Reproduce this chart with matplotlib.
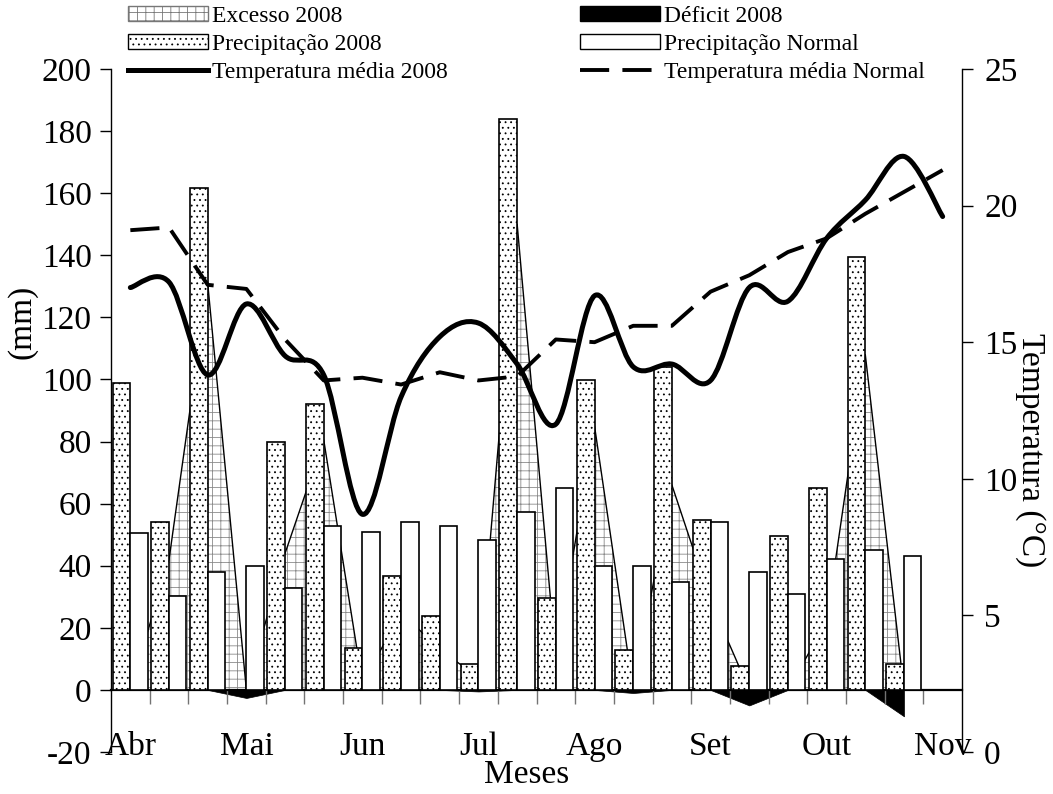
import numpy as np
import matplotlib
matplotlib.use('Agg')
import matplotlib.pyplot as plt
from matplotlib.patches import Patch, PathPatch
from matplotlib.lines import Line2D
from matplotlib.path import Path

plt.rcParams['font.family'] = ['Liberation Serif', 'DejaVu Serif']
plt.rcParams['hatch.linewidth'] = 0.6
plt.rcParams['axes.unicode_minus'] = False

# dados (decêndios de abril a outubro de 2008)
meses = ['Abr', 'Mai', 'Jun', 'Jul', 'Ago', 'Set', 'Out', 'Nov']
prec_2008 = [98.9, 54.1, 161.7, 0, 80, 92.2, 13.5, 36.8, 23.8, 8.4, 184,
             29.6, 99.8, 12.9, 104, 54.8, 7.6, 49.6, 65, 139.4, 8.4]
prec_normal = [50.6, 30.4, 38.1, 40, 32.9, 52.8, 50.9, 54.1, 52.8, 48.3, 57.3,
               65, 40, 40, 34.8, 54, 38, 31, 42.2, 45.1, 43.2]
excesso = [0, 42, 131, 0, 44, 80.5, 2, 25, 13, 4, 150,
           10, 85, 0, 66, 28.6, 0, 0, 22, 108, 0]
deficit = [0, 0, 0, -2.6, 0, 0, 0, 0, 0, -0.5, 0,
           0, 0, -1, 0, 0, -5, 0, 0, 0, -8.5]
# temperatura (inclui o primeiro decêndio de novembro)
temp_2008 = [17.0, 17.2, 13.8, 16.4, 14.5, 13.8, 8.7, 13.0, 15.2, 15.7, 14.2,
             12.0, 16.7, 14.1, 14.2, 13.6, 17.0, 16.5, 18.8, 20.2, 21.8, 19.6]
temp_normal = [19.1, 19.2, 17.1, 16.95, 15.1, 13.6, 13.7, 13.45, 13.9, 13.6, 13.75,
               15.1, 15.0, 15.6, 15.6, 16.85, 17.45, 18.3, 18.8, 19.7, 20.5, 21.3]


def curva_suave(x, y):
    # linha suavizada (bezier tipo catmull-rom, como no excel)
    x = np.asarray(x, float)
    y = np.asarray(y, float)
    px = np.r_[x[0], x, x[-1]]
    py = np.r_[y[0], y, y[-1]]
    verts = [(x[0], y[0])]
    codes = [Path.MOVETO]
    for i in range(1, len(x)):
        c1 = (px[i] + (px[i + 1] - px[i - 1]) / 6, py[i] + (py[i + 1] - py[i - 1]) / 6)
        c2 = (px[i + 1] - (px[i + 2] - px[i]) / 6, py[i + 1] - (py[i + 2] - py[i]) / 6)
        verts += [c1, c2, (x[i], y[i])]
        codes += [Path.CURVE4] * 3
    return Path(verts, codes)


fig = plt.figure(figsize=(10.53, 7.94), dpi=100)
ax = fig.add_axes([111 / 1053, 1 - 752 / 794, 851 / 1053, 683 / 794])
ax2 = ax.twinx()

n = len(prec_2008)
xb = np.arange(n)
xc = xb + 0.5
xt = np.arange(len(temp_2008)) + 0.5

# excesso e deficit (área)
ax.fill_between(xc, excesso, 0, facecolor='white', edgecolor='#8a8a8a',
                hatch='++', lw=0, zorder=1)
ax.plot(xc, excesso, color='k', lw=1.0, zorder=1.5)
ax.fill_between(xc, deficit, 0, facecolor='k', edgecolor='k', lw=0.5, zorder=1)

# barras
ax.bar(xb + 0.04, prec_2008, width=0.46, align='edge', color='white',
       edgecolor='k', hatch='...', lw=1.2, zorder=3)
ax.bar(xb + 0.5, prec_normal, width=0.45, align='edge', color='white',
       edgecolor='k', lw=1.2, zorder=3)

# temperaturas
ax2.add_patch(PathPatch(curva_suave(xt, temp_2008), facecolor='none', edgecolor='k',
                        lw=3.6, capstyle='round', joinstyle='round', zorder=4))
ax2.plot(xt, temp_normal, color='k', lw=2.8, dashes=(7.5, 3.4), zorder=4)

ax.set_xlim(0, 22)
ax.set_ylim(-20, 200)
ax2.set_ylim(0, 25)

ax.set_yticks(range(-20, 201, 20))
ax2.set_yticks(range(0, 26, 5))
ax.set_xticks(np.arange(1, 22))
ax.set_xticklabels([])
ax.set_xticks(xt[::3], minor=True)
ax.set_xticklabels(meses, minor=True)

ax.tick_params(axis='x', which='major', direction='out', length=10, width=1, color='0.45')
ax.tick_params(axis='x', which='minor', length=0, pad=30, labelsize=24)
ax.tick_params(axis='y', direction='out', length=8, width=1, labelsize=24, pad=6)
ax2.tick_params(axis='y', direction='out', length=8, width=1, labelsize=24, pad=8)

ax.spines['bottom'].set_position(('data', 0))
ax.spines['bottom'].set_linewidth(1.6)
ax.spines['top'].set_visible(False)
ax.spines['right'].set_visible(False)
ax.spines['left'].set_linewidth(1.0)
for s in ['top', 'bottom', 'left']:
    ax2.spines[s].set_visible(False)
ax2.spines['right'].set_linewidth(1.0)

fig.text(22 / 1053, 1 - 322 / 794, '(mm)', rotation=90, ha='center', va='center', fontsize=24)
fig.text(1030 / 1053, 1 - 450 / 794, 'Temperatura (°C)', rotation=270, ha='center',
         va='center', fontsize=24)
fig.text(527 / 1053, 1 - 775 / 794, 'Meses', ha='center', va='center', fontsize=24)

# legenda
handles = [
    Patch(facecolor='white', edgecolor='#777777', hatch='++'),
    Patch(facecolor='white', edgecolor='k', hatch='...'),
    Line2D([], [], color='k', lw=3.6),
    Patch(facecolor='k', edgecolor='k'),
    Patch(facecolor='white', edgecolor='k'),
    Line2D([], [], color='k', lw=2.8, dashes=(7.5, 3.4)),
]
labels = ['Excesso 2008', 'Precipitação 2008', 'Temperatura média 2008',
          'Déficit 2008', 'Precipitação Normal', 'Temperatura média Normal']
fig.legend(handles, labels, ncol=2, loc='upper left', bbox_to_anchor=(128 / 1053, 1 - 6 / 794),
           frameon=False, fontsize=17, handlelength=3.4, handleheight=0.6,
           handletextpad=0.15, columnspacing=5.6, labelspacing=0.3, borderpad=0,
           borderaxespad=0)

fig.savefig('out.png', dpi=100)
